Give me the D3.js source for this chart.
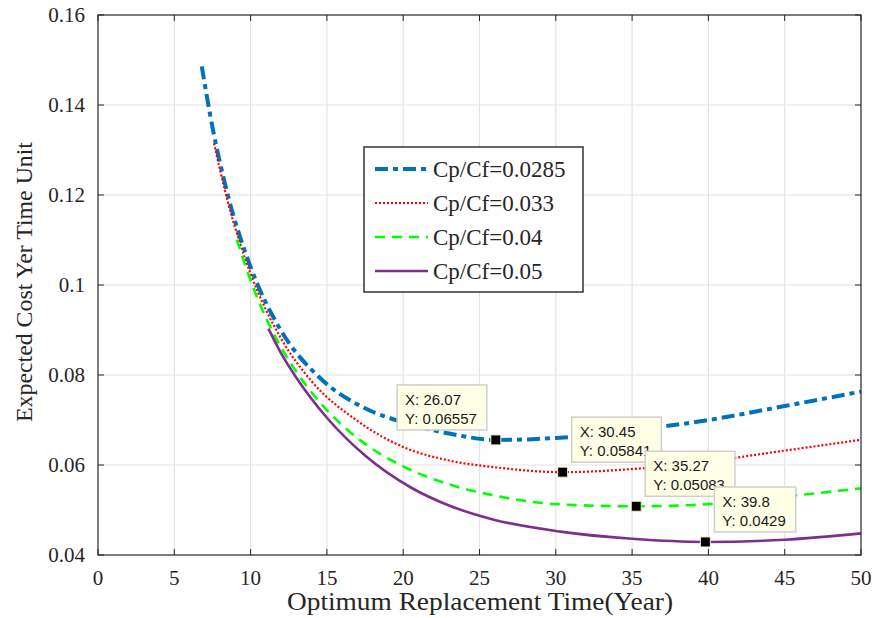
<!DOCTYPE html>
<html>
<head>
<meta charset="utf-8">
<script src="https://cdn.jsdelivr.net/npm/d3@7"></script>
<style>
  body { margin: 0; background: #fff; }
  text { font-family: "Liberation Serif", "Times New Roman", serif; fill: #262626; }
  .tip text { font-family: "Liberation Sans", Arial, sans-serif; fill: #1a1a1a; }
</style>
</head>
<body>
<script>
// Values
const xTicks = [0, 5, 10, 15, 20, 25, 30, 35, 40, 45, 50];
const yTicks = [0.04, 0.06, 0.08, 0.1, 0.12, 0.14, 0.16];
const yTickLabels = ["0.04", "0.06", "0.08", "0.1", "0.12", "0.14", "0.16"];

const seriesNames = ["Cp/Cf=0.0285", "Cp/Cf=0.033", "Cp/Cf=0.04", "Cp/Cf=0.05"];

const blueX = [6.8, 7.5, 8.5, 10, 12, 14.5, 17.5, 20, 23, 26.07, 30, 35, 40, 45, 50];
const blueY = [0.1486, 0.1351, 0.1201, 0.1040, 0.0898, 0.0795, 0.0726, 0.0695, 0.0670, 0.06557, 0.0660, 0.0677, 0.0700, 0.0731, 0.0763];

const redX = [7.6, 8.5, 10, 12, 14, 17, 20, 23, 26, 30.45, 35, 40, 45, 50];
const redY = [0.1315, 0.1186, 0.1025, 0.0881, 0.0786, 0.0698, 0.0640, 0.0610, 0.0595, 0.05841, 0.0591, 0.0608, 0.0632, 0.0656];

const greenX = [9.1, 10, 12, 13, 15, 17.5, 20, 23, 26, 30, 35.27, 40, 45, 50];
const greenY = [0.1101, 0.1010, 0.0861, 0.0807, 0.0722, 0.0647, 0.0597, 0.0557, 0.0532, 0.0513, 0.05083, 0.0513, 0.0530, 0.0548];

const purpleX = [11.17, 12, 13, 15, 17.5, 20.5, 23, 26, 30.3, 35, 39.8, 45, 50];
const purpleY = [0.0903, 0.0848, 0.0794, 0.0705, 0.0621, 0.0550, 0.0510, 0.0478, 0.0452, 0.0436, 0.0429, 0.0434, 0.0448];

const tipX = [26.07, 30.45, 35.27, 39.8];
const tipY = [0.06557, 0.05841, 0.05083, 0.0429];
const tipTextX = ["26.07", "30.45", "35.27", "39.8"];
const tipTextY = ["0.06557", "0.05841", "0.05083", "0.0429"];

// Layout
const W = 882, H = 618;
const margin = { top: 15, right: 21, bottom: 63, left: 98 };
const width = W - margin.left - margin.right;
const height = H - margin.top - margin.bottom;

const svg = d3.select("body").append("svg")
    .attr("width", W)
    .attr("height", H);

const g = svg.append("g")
    .attr("transform", `translate(${margin.left},${margin.top})`);

const x = d3.scaleLinear().domain([0, 50]).range([0, width]);
const y = d3.scaleLinear().domain([0.04, 0.16]).range([height, 0]);

// Grid
g.append("g")
  .selectAll("line")
  .data(xTicks.slice(1, -1))
  .join("line")
    .attr("x1", d => x(d)).attr("x2", d => x(d))
    .attr("y1", 0).attr("y2", height)
    .attr("stroke", "#e3e3e3").attr("stroke-width", 1.2);

g.append("g")
  .selectAll("line")
  .data(yTicks.slice(1, -1))
  .join("line")
    .attr("y1", d => y(d)).attr("y2", d => y(d))
    .attr("x1", 0).attr("x2", width)
    .attr("stroke", "#e3e3e3").attr("stroke-width", 1.2);

// Series
const series = [
  { xs: blueX, ys: blueY, color: "#0072BD", w: 4, dash: "13,5,5,5" },
  { xs: redX, ys: redY, color: "#FF0000", w: 2.2, dash: "2,2" },
  { xs: greenX, ys: greenY, color: "#00FF00", w: 2.6, dash: "10,7" },
  { xs: purpleX, ys: purpleY, color: "#7E2F8E", w: 2.6, dash: null }
];

const line = d3.line()
    .x(d => x(d[0]))
    .y(d => y(d[1]))
    .curve(d3.curveMonotoneX);

series.forEach(s => {
  g.append("path")
    .datum(s.xs.map((v, i) => [v, s.ys[i]]))
    .attr("fill", "none")
    .attr("stroke", s.color)
    .attr("stroke-width", s.w)
    .attr("stroke-dasharray", s.dash)
    .attr("d", line);
});

// Axes (box with inward ticks)
const axisColor = "#262626";
g.append("rect")
  .attr("width", width).attr("height", height)
  .attr("fill", "none").attr("stroke", axisColor).attr("stroke-width", 1.2);

const tickLen = 6;
xTicks.forEach(t => {
  g.append("line").attr("x1", x(t)).attr("x2", x(t)).attr("y1", height).attr("y2", height - tickLen).attr("stroke", axisColor);
  g.append("line").attr("x1", x(t)).attr("x2", x(t)).attr("y1", 0).attr("y2", tickLen).attr("stroke", axisColor);
  g.append("text")
    .attr("x", x(t)).attr("y", height + 30)
    .attr("text-anchor", "middle")
    .style("font-size", "21px")
    .text(t);
});
yTicks.forEach((t, i) => {
  g.append("line").attr("x1", 0).attr("x2", tickLen).attr("y1", y(t)).attr("y2", y(t)).attr("stroke", axisColor);
  g.append("line").attr("x1", width).attr("x2", width - tickLen).attr("y1", y(t)).attr("y2", y(t)).attr("stroke", axisColor);
  g.append("text")
    .attr("x", -13).attr("y", y(t) + 7)
    .attr("text-anchor", "end")
    .style("font-size", "21px")
    .text(yTickLabels[i]);
});

// Axis labels
svg.append("text")
  .attr("x", 480).attr("y", 610)
  .attr("text-anchor", "middle")
  .attr("textLength", 386)
  .attr("lengthAdjust", "spacingAndGlyphs")
  .style("font-size", "25px")
  .text("Optimum Replacement Time(Year)");

svg.append("text")
  .attr("transform", "translate(32,282) rotate(-90)")
  .attr("text-anchor", "middle")
  .attr("textLength", 280)
  .attr("lengthAdjust", "spacingAndGlyphs")
  .style("font-size", "24px")
  .text("Expected Cost Yer Time Unit");

// Legend
const legend = svg.append("g").attr("transform", "translate(364,147)");
legend.append("rect")
  .attr("width", 219).attr("height", 145)
  .attr("fill", "#fff").attr("stroke", "#333").attr("stroke-width", 1.5);

seriesNames.forEach((name, i) => {
  const ly = 22 + i * 34;
  const s = series[i];
  legend.append("line")
    .attr("x1", 11).attr("x2", 64).attr("y1", ly).attr("y2", ly)
    .attr("stroke", s.color).attr("stroke-width", s.w)
    .attr("stroke-dasharray", s.dash);
  legend.append("text")
    .attr("x", 69).attr("y", ly + 8)
    .style("font-size", "23px")
    .text(name);
});

// Data tips: box to the upper left for the first one, upper right for the rest
const tipSide = ["left", "right", "right", "right"];
tipX.forEach((tx, i) => {
  const px = margin.left + x(tx);
  const py = margin.top + y(tipY[i]);
  const tip = svg.append("g").attr("class", "tip");
  const box = tip.append("rect");
  const t1 = tip.append("text").style("font-size", "15px").text("X: " + tipTextX[i]);
  const t2 = tip.append("text").style("font-size", "15px").text("Y: " + tipTextY[i]);
  const bw = Math.max(t1.node().getComputedTextLength(), t2.node().getComputedTextLength()) + 18;
  const bh = 45;
  const bx = tipSide[i] === "left" ? px - 9 - bw : px + 9;
  const by = py - 10 - bh;
  box.attr("x", bx).attr("y", by).attr("width", bw).attr("height", bh)
    .attr("fill", "#ffffe6").attr("stroke", "#cfcfcf").attr("stroke-width", 1.5);
  t1.attr("x", bx + 8).attr("y", by + 20);
  t2.attr("x", bx + 8).attr("y", by + 39);
  tip.append("rect")
    .attr("x", px - 5).attr("y", py - 5).attr("width", 10).attr("height", 10)
    .attr("fill", "#000").attr("stroke", "#f2f2c8").attr("stroke-width", 1);
});
</script>
</body>
</html>
